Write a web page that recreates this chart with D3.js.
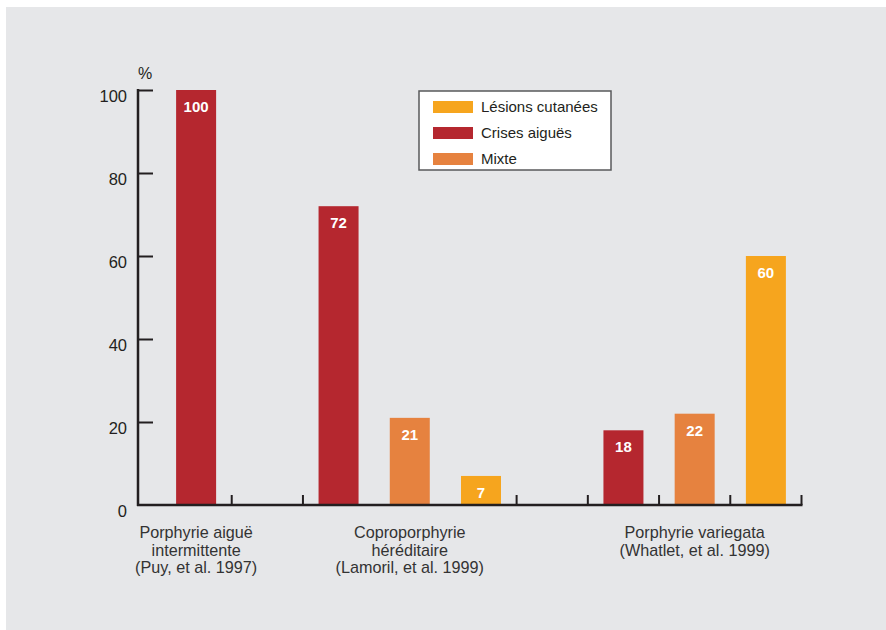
<!DOCTYPE html>
<html>
<head>
<meta charset="utf-8">
<script src="https://cdn.jsdelivr.net/npm/d3@7"></script>
<style>
  body { margin: 0; background: #fff; }
  svg { display: block; font-family: "Liberation Sans", Arial, sans-serif; }
</style>
</head>
<body>
<div class="chart"></div>
<script>
// data
const seriesNames = ['Lésions cutanées', 'Crises aiguës', 'Mixte'];
const seriesColors = ['#f6a51e', '#b5272f', '#e6823f'];

const groupLabels = [
    ['Porphyrie aiguë', 'intermittente', '(Puy, et al. 1997)'],
    ['Coproporphyrie', 'héréditaire', '(Lamoril, et al. 1999)'],
    ['Porphyrie variegata', '(Whatlet, et al. 1999)']
];

// one entry per bar: slot on the x axis, series, value
const barSlots = [0, 2, 3, 4, 6, 7, 8];
const barSeries = [1, 1, 2, 0, 1, 2, 0];
const barValues = [100, 72, 21, 7, 18, 22, 60];

const groupCenterSlots = [0, 3, 7];
const tickBoundaries = [1, 2, 5, 6, 7, 8, 9];
const yTicks = [0, 20, 40, 60, 80, 100];

const width = 886;
const height = 630;

const svg = d3.select('.chart').append('svg')
    .attr('width', width)
    .attr('height', height);

svg.append('rect')
    .attr('x', 6).attr('y', 7)
    .attr('width', width - 6).attr('height', height - 7)
    .attr('fill', '#e6e7e9');

const xScale = d3.scaleBand()
    .domain(d3.range(9))
    .range([160.5, 801.5])
    .paddingInner(0)
    .paddingOuter(0);

const yScale = d3.scaleLinear()
    .domain([0, 100])
    .range([505, 90]);

const step = xScale.step();
const barW = 40;

// bars
svg.selectAll('.bar')
    .data(barValues)
    .enter().append('rect')
    .attr('class', 'bar')
    .attr('x', (d, i) => xScale(barSlots[i]) + (step - barW) / 2)
    .attr('y', d => yScale(d))
    .attr('width', barW)
    .attr('height', d => yScale(0) - yScale(d))
    .attr('fill', (d, i) => seriesColors[barSeries[i]]);

svg.selectAll('.bar-label')
    .data(barValues)
    .enter().append('text')
    .attr('class', 'bar-label')
    .attr('x', (d, i) => xScale(barSlots[i]) + step / 2)
    .attr('y', d => yScale(d) + 22)
    .attr('text-anchor', 'middle')
    .attr('fill', '#fff')
    .attr('font-size', 15)
    .attr('font-weight', 'bold')
    .text(d => d);

// y axis
const yAxis = svg.append('g')
    .attr('class', 'y-axis')
    .attr('transform', 'translate(138, 0)')
    .call(d3.axisRight(yScale).tickValues(yTicks.slice(1)).tickSize(15).tickFormat(''));
yAxis.select('.domain').remove();
yAxis.selectAll('line').attr('stroke', '#231f20').attr('stroke-width', 2);

svg.append('line')
    .attr('x1', 138).attr('x2', 138)
    .attr('y1', yScale(100) - 1).attr('y2', yScale(0) + 1)
    .attr('stroke', '#231f20').attr('stroke-width', 2.5);

svg.selectAll('.y-label')
    .data(yTicks)
    .enter().append('text')
    .attr('class', 'y-label')
    .attr('x', 127)
    .attr('y', d => yScale(d) + 12)
    .attr('text-anchor', 'end')
    .attr('fill', '#231f20')
    .attr('font-size', 16.5)
    .text(d => d);

svg.append('text')
    .attr('x', 145).attr('y', 79)
    .attr('text-anchor', 'middle')
    .attr('fill', '#231f20')
    .attr('font-size', 16)
    .text('%');

// x axis
svg.append('line')
    .attr('x1', 137).attr('x2', xScale.range()[1] + 1)
    .attr('y1', yScale(0)).attr('y2', yScale(0))
    .attr('stroke', '#231f20').attr('stroke-width', 2.5);

svg.selectAll('.x-tick')
    .data(tickBoundaries)
    .enter().append('line')
    .attr('class', 'x-tick')
    .attr('x1', d => xScale.range()[0] + d * step)
    .attr('x2', d => xScale.range()[0] + d * step)
    .attr('y1', yScale(0))
    .attr('y2', yScale(0) - 10)
    .attr('stroke', '#231f20').attr('stroke-width', 2);

groupLabels.forEach((lines, g) => {
    const t = svg.append('text')
        .attr('x', xScale(groupCenterSlots[g]) + step / 2)
        .attr('y', 538)
        .attr('text-anchor', 'middle')
        .attr('fill', '#333')
        .attr('font-size', 16.2);
    lines.forEach((l, i) => {
        t.append('tspan')
            .attr('x', xScale(groupCenterSlots[g]) + step / 2)
            .attr('dy', i === 0 ? 0 : 17.5)
            .text(l);
    });
});

// legend
const legend = svg.append('g').attr('transform', 'translate(419, 91)');
legend.append('rect')
    .attr('width', 192).attr('height', 79)
    .attr('fill', '#fff')
    .attr('stroke', '#58595b').attr('stroke-width', 1.5);

seriesNames.forEach((name, i) => {
    legend.append('rect')
        .attr('x', 14).attr('y', 10 + i * 26)
        .attr('width', 40).attr('height', 12)
        .attr('fill', seriesColors[i]);
    legend.append('text')
        .attr('x', 62).attr('y', 21 + i * 26)
        .attr('fill', '#231f20')
        .attr('font-size', 15)
        .text(name);
});
</script>
</body>
</html>
